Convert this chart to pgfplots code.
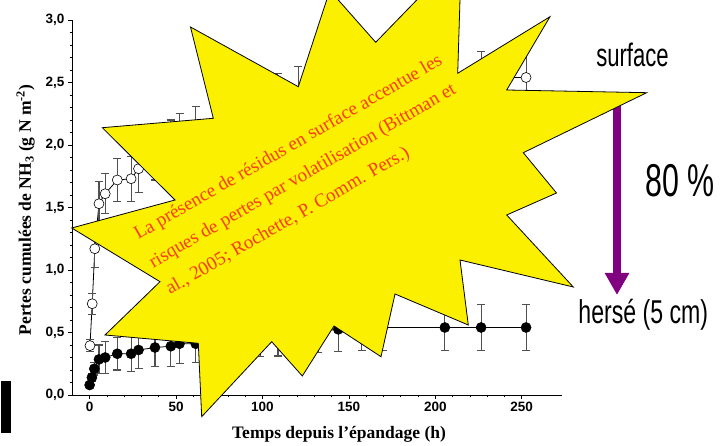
\documentclass[border=0pt]{standalone}
\usepackage{pgfplots}
\pgfplotsset{compat=1.18}
\usepackage{pgfplotstable}
\usepackage{fontspec}
\usepackage{graphicx}
\usetikzlibrary{arrows.meta}
\setmainfont{Liberation Serif}
\newfontfamily\arialf{Liberation Sans}
\definecolor{staryellow}{RGB}{250,240,0}
\definecolor{startext}{RGB}{250,60,20}
\definecolor{arrowpurple}{RGB}{128,0,128}
\definecolor{errgray}{RGB}{80,80,80}

\pgfplotstableread{
t v e
0 0.08 0.02
1.3 0.14 0.03
2.7 0.21 0.05
5.4 0.285 0.115
9 0.30 0.125
16 0.33 0.13
24 0.33 0.14
28.3 0.36 0.15
37.8 0.38 0.155
47 0.39 0.16
52 0.41 0.16
61.4 0.41 0.15
98.6 0.48 0.175
109 0.49 0.178
120.7 0.50 0.18
132.3 0.51 0.17
143.9 0.525 0.178
157.4 0.53 0.175
169.5 0.54 0.185
205.5 0.54 0.185
226.5 0.54 0.185
252.5 0.54 0.185
}\hersetable

\pgfplotstableread{
t v e
0.2 0.395 0.05
1.5 0.73 0.085
3 1.17 0.15
5.4 1.53 0.18
9 1.61 0.16
16 1.72 0.17
24 1.73 0.18
28.3 1.81 0.19
37.8 1.92 0.2
47 2.00 0.2
52 2.05 0.2
61.5 2.11 0.2
98.6 2.30 0.2
108.8 2.37 0.2
120.7 2.43 0.2
132.3 2.46 0.21
143.9 2.48 0.21
157.4 2.50 0.21
169.5 2.52 0.21
205.5 2.53 0.21
226.5 2.54 0.21
252.5 2.54 0.21
}\surfacetable

\begin{document}
\begin{tikzpicture}[x=1bp,y=1bp]
\path[use as bounding box] (0,0) rectangle (720,446);
\begin{axis}[
  at={(72bp,51bp)}, anchor=south west, scale only axis,
  width=490bp, height=375bp,
  xmin=-10.2, xmax=273.3, ymin=0, ymax=3,
  axis x line=bottom, axis y line=left,
  axis line style={-, line width=0.9bp},
  xtick={0,50,100,150,200,250}, ytick={0,0.5,1,1.5,2,2.5,3},
  minor x tick num=4, minor y tick num=4,
  tick align=outside, major tick length=4bp, minor tick length=2.5bp,
  tick style={black, line width=0.7bp},
  /pgf/number format/assume math mode=true,
  yticklabel style={/pgf/number format/fixed, /pgf/number format/fixed zerofill, /pgf/number format/precision=1, /pgf/number format/use comma},
  ticklabel style={font=\arialf\bfseries\fontsize{13.5bp}{14bp}\selectfont},
  xlabel={Temps depuis l'épandage (h)},
  ylabel={Pertes cumulées de NH\textsubscript{3} (g N m\textsuperscript{-2})},
  label style={font=\bfseries\fontsize{17.5bp}{18bp}\selectfont},
  xlabel style={at={(axis description cs:0.545,-0.1147)}, anchor=base},
  ylabel style={at={(axis description cs:-0.0837,0.493)}, anchor=base},
  clip=false,
]
\addplot[black, line width=0.8bp, mark=*, mark size=5bp,
  mark options={fill=black, draw=black, line width=0.6bp},
  error bars/.cd, y dir=both, y explicit,
  error bar style={errgray, line width=1.1bp},
  error mark options={errgray, line width=1.1bp, mark size=4bp, rotate=90}]
  table[x=t, y=v, y error=e] {\hersetable};
\addplot[black, line width=0.8bp, mark=*, mark size=5bp,
  mark options={fill=white, draw=black, line width=0.6bp},
  error bars/.cd, y dir=both, y explicit,
  error bar style={errgray, line width=1.1bp},
  error mark options={errgray, line width=1.1bp, mark size=4bp, rotate=90}]
  table[x=t, y=v, y error=e] {\surfacetable};
\end{axis}

% purple arrow
\draw[arrowpurple, line width=7.7bp, -{Triangle[width=23bp, length=22bp]}] (617,446-100) -- (617,446-295);

% star burst
\begin{scope}[shift={(0,446)}, yscale=-1]
\filldraw[fill=staryellow, draw=black, line width=0.8bp]
 (190.5,27) -- (298.3,86.7) -- (329.8,-9.6) -- (375.7,42.3) -- (461.4,-46) --
 (457.7,73.3) -- (550,16.7) -- (506.7,90) -- (646.7,92.7) -- (523.3,152.7) --
 (556.5,193) -- (506.7,215) -- (573.3,287) -- (460,260) -- (468.3,325) --
 (395,294) -- (381,356.7) -- (334,326) -- (302.3,376) -- (271.7,341.7) --
 (201.7,416.7) -- (198.3,343.3) -- (105,335) -- (160,281.7) -- (71.7,228) --
 (175,200) -- (102.3,127.7) -- (213.3,118.3) -- cycle;
\end{scope}

% star text
\begin{scope}[every node/.style={anchor=base west, rotate=30, text=startext, inner sep=0pt, font=\fontsize{19bp}{19bp}\selectfont}]
\node at (138.3,446-240) {La présence de résidus en surface accentue les};
\node at (153.3,446-268.3) {risques de pertes par volatilisation (Bittman et};
\node at (170,446-295) {al., 2005; Rochette, P. Comm. Pers.)};
\end{scope}

% right side texts
\node[anchor=base, inner sep=0pt, font=\arialf\fontsize{32.5bp}{33bp}\selectfont] at (632.5,446-66.7) {\scalebox{0.68}[1]{surface}};
\node[anchor=base, inner sep=0pt, font=\arialf\fontsize{46bp}{46bp}\selectfont] at (680,446-197) {\scalebox{0.66}[1]{80 \%}};
\node[anchor=base, inner sep=0pt, font=\arialf\fontsize{33bp}{33bp}\selectfont] at (643.3,446-323.3) {\scalebox{0.7}[1]{hersé (5 cm)}};

% black bar
\fill[black] (1,13) rectangle (11,65);
\end{tikzpicture}
\end{document}
